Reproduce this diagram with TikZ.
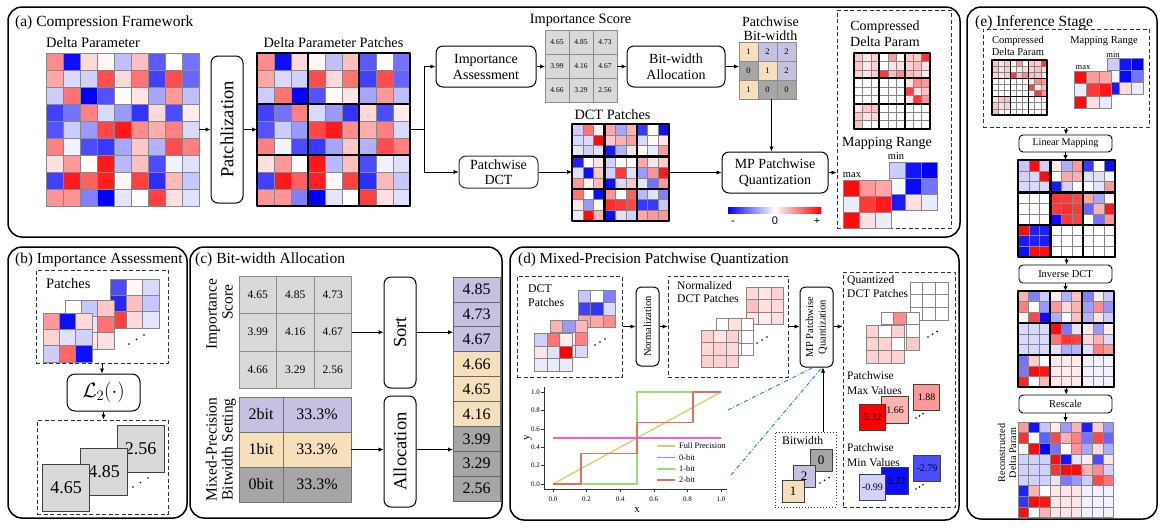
\documentclass[tikz,border=0pt]{standalone}
\usepackage{fontspec}
\setmainfont{Liberation Serif}
\newfontfamily\sansf{Liberation Sans}
\usetikzlibrary{arrows.meta,calc}

\definecolor{lgray}{RGB}{217,217,217}
\definecolor{dgray}{RGB}{166,166,166}
\definecolor{lav}{RGB}{197,193,224}
\definecolor{tanc}{RGB}{246,224,188}
\definecolor{slate}{RGB}{35,55,75}
\definecolor{cellg}{RGB}{135,135,135}
\definecolor{ddblue}{RGB}{46,139,192}
\definecolor{fpcol}{RGB}{212,208,110}
\definecolor{zbcol}{RGB}{232,100,224}
\definecolor{obcol}{RGB}{150,224,112}
\definecolor{tbcol}{RGB}{224,112,96}

\newcommand\fsz[2]{\fontsize{#1}{#2}\selectfont}

% heatmap: x, y (top-left), cell, data macro
\newcommand\hm[4]{%
  \foreach \hmrow [count=\hmr from 0] in #4 {%
    \foreach \hmv [count=\hmc from 0] in \hmrow {%
      \pgfmathtruncatemacro\hma{abs(\hmv)}%
      \ifnum\hmv<0 \def\hmcol{blue!\hma!white}\else\def\hmcol{red!\hma!white}\fi
      \filldraw[fill=\hmcol, draw=cellg, line width=0.5pt] ({#1+\hmc*#3},{#2+\hmr*#3}) rectangle ++(#3,#3);
    }%
  }%
}
% named heatmap: name, x, y, cell, n, data
\newcommand\hmn[6]{%
  \node[inner sep=0pt, outer sep=0pt, minimum size={#5*#4}] (#1) at ({#2+#5*#4/2},{#3+#5*#4/2}) {};
  \hm{#2}{#3}{#4}{#6}%
}
% thick block lines: x, y, size, lw
\newcommand\blk[4]{%
  \draw[line width=#4] (#1,#2) rectangle ++(#3,#3);
  \draw[line width=#4] ({#1+#3/3},#2) -- ++(0,#3) ({#1+2*#3/3},#2) -- ++(0,#3)
     (#1,{#2+#3/3}) -- ++(#3,0) (#1,{#2+2*#3/3}) -- ++(#3,0);
}
% number grid: name, x, y, cell, font, list v/col
\newcommand\cgrid[6]{%
  \node[inner sep=0pt, outer sep=0pt, minimum size={3*#4}] (#1) at ({#2+1.5*#4},{#3+1.5*#4}) {};
  \foreach \gv/\gcl [count=\gk from 0] in {#6} {%
    \pgfmathtruncatemacro\grr{floor(\gk/3)}%
    \pgfmathtruncatemacro\gcc{mod(\gk,3)}%
    \filldraw[fill=\gcl, draw=black!45, line width=0.6pt] ({#2+\gcc*#4},{#3+\grr*#4}) rectangle ++(#4,#4);
    \node[font=#5, inner sep=0pt] (#1-\gk) at ({#2+(\gcc+0.5)*#4},{#3+(\grr+0.5)*#4}) {\gv};
  }%
}
\newcommand\adots[3]{% ascending dots: x, y, step
  \fill (#1,#2) circle (0.9pt) ({#1+#3},{#2-#3*0.6}) circle (0.9pt) ({#1+2*#3},{#2-#3*1.2}) circle (0.9pt);
}

\def\dDP{{45,-95,15,3,-25,25,-65,0,-55},%
{35,-15,-18,70,15,55,-75,70,-60},%
{-20,55,-100,-68,0,10,-35,40,-25},%
{-75,-55,50,-15,-40,-80,15,-70,8},%
{-68,-20,-40,72,90,45,32,50,-15},%
{50,-5,-70,-78,-35,22,-30,70,50},%
{12,40,0,90,-28,25,-70,-5,-12},%
{-75,90,62,88,3,75,-82,28,-22},%
{42,42,-50,-100,-10,0,75,12,-12}}
\def\dDCT{{-20,55,5,35,-35,30,-78,0,-95},%
{-15,-15,95,22,30,38,-15,0,10},%
{-10,-18,-12,-90,-30,10,0,-8,40},%
{-88,0,10,-18,0,0,35,10,20},%
{-12,-95,22,-18,78,-12,-40,42,90},%
{40,5,25,-95,-15,22,-10,-55,40},%
{55,0,-95,42,0,62,-28,-12,-50},%
{10,-40,0,82,78,72,-78,-78,-22},%
{-8,95,30,-95,-12,-18,35,40,40}}
\def\dCmp{{22,10,20,0,40,0,22,20,80},%
{22,10,18,0,10,12,18,25,12},%
{18,10,20,78,25,45,25,22,8},%
{0,0,0,0,0,0,10,45,40},%
{0,0,0,0,0,0,75,10,25},%
{0,0,0,0,0,0,10,78,40},%
{10,22,25,0,0,0,0,0,0},%
{22,12,18,0,0,0,0,0,0},%
{25,0,0,0,0,0,0,0,0}}
\def\dMax{{95,40,35},{-8,78,90},{95,12,-8}}
\def\dMin{{-20,-92,-100},{-3,-97,-55},{-90,12,-8}}
\def\dLM{{-22,95,-18,8,-32,40,-78,0,-95},%
{-18,-15,95,0,35,32,-12,-12,-5},%
{-15,-15,-15,-90,-18,0,0,-10,40},%
{0,0,0,78,78,72,35,-35,5},%
{0,0,0,78,82,78,-60,30,90},%
{0,0,0,-95,78,75,0,-55,40},%
{95,-88,-88,0,0,0,0,0,0},%
{-90,-88,-90,0,0,0,0,0,0},%
{-95,95,95,0,0,0,0,0,0}}
\def\dID{{30,-50,-20,8,-30,25,-50,8,-22},%
{50,0,-40,40,15,30,-38,45,-42},%
{5,72,-95,-32,0,25,-30,10,-20},%
{-15,-15,-15,95,-52,-10,8,-40,8},%
{-15,-15,-15,55,80,75,15,30,-15},%
{-15,-15,-15,-12,-32,-30,-12,50,40},%
{-55,20,0,8,8,8,-5,-5,-5},%
{-52,95,92,8,8,8,-5,-5,-5},%
{85,0,28,8,8,8,-5,-5,-5}}
\def\dRC{{40,-92,-22,8,-40,30,-88,20,-40},%
{82,0,-62,72,30,50,-55,72,-60},%
{5,95,-100,-55,0,42,-35,15,-32},%
{-18,-18,-18,95,-92,-10,8,-70,10},%
{-18,-18,-18,80,95,95,30,45,-18},%
{-18,-18,-18,-10,-52,-40,-20,72,55},%
{-88,30,0,10,10,10,-5,-5,-5},%
{-80,95,92,10,10,10,-5,-5,-5},%
{95,0,30,10,10,10,-5,-5,-5}}
\def\bA{{-70,3,-15},{-85,25,-22},{75,15,-10}}
\def\bB{{0,-22,22},{20,-10,55},{10,10,12}}
\def\bC{{40,-95,15},{18,-12,-18},{-20,60,-95}}
\def\pA{{-22,0,-50},{-75,-80,-15},{35,35,45}}
\def\pB{{30,-40,28},{10,10,50},{5,5,-15}}
\def\pC{{-18,55,8},{10,-12,100},{-8,-8,-8}}
\def\nA{{15,10,18},{25,12,15},{10,8,12}}
\def\nB{{0,12,0},{0,10,0},{0,0,0}}
\def\nC{{18,10,18},{15,18,15},{18,18,18}}
\def\qA{{0,0,0},{0,0,0},{0,0,0}}
\def\qB{{0,45,0},{0,0,0},{0,0,20}}
\def\qC{{18,0,18},{18,18,0},{18,18,18}}

\tikzset{
  panel/.style={line width=1.5pt, rounded corners=14pt},
  box/.style={draw, line width=1pt, rounded corners=7pt, align=center, inner sep=0pt},
  sbox/.style={draw, line width=0.9pt, rounded corners=4pt, align=center, inner sep=0pt},
  dbox/.style={draw=slate, line width=1pt, dash pattern=on 4pt off 2.5pt, inner sep=0pt},
  arr/.style={-{Latex[length=5pt,width=4.5pt]}, line width=0.9pt},
  lin/.style={line width=0.9pt},
  sq/.style={draw=black!75, line width=0.9pt, inner sep=0pt},
}

\begin{document}
\begin{tikzpicture}[x=1pt,y=-1pt,line join=round]
\fill[white] (0,0) rectangle (1167,528);
\useasboundingbox (0,0) rectangle (1167,528);

%================ (a) =================
\draw[panel] (8,7) rectangle (960,237);
\node[anchor=base west, font=\fsz{15.5}{18}, inner sep=0pt] (ta) at (15,26) {(a) Compression Framework};
\node[anchor=base west, font=\fsz{14.5}{17}, inner sep=0pt] (ldp) at (46,47) {Delta Parameter};
\hmn{dp}{46}{53}{17}{9}{\dDP}
\node[box, minimum width=32pt, minimum height=147pt] (pz) at (227,129.5) {};
\node[rotate=90, font=\fsz{18.5}{20}] (pzt) at (pz.center) {Patchlization};
\node[anchor=base, font=\fsz{14.3}{17}, inner sep=0pt] (ldpp) at (333.5,47) {Delta Parameter Patches};
\hmn{dpp}{257}{53}{17}{9}{\dDP}
\blk{257}{53}{153}{2.8pt}
\draw[arr] (dp.east) -- (pz.west);
\draw[arr] (pz.east) -- (dpp.west);

\node[box, minimum width=100pt, minimum height=41pt, font=\fsz{14}{16}] (ia) at (486,66.5) {Importance\\Assessment};
\coordinate (br) at (424,129.5);
\draw[lin] (dpp.east) -- (br);
\draw[arr] (br) |- (ia.west);
\node[box, draw=slate, minimum width=79pt, minimum height=32pt, font=\fsz{14}{15}] (pd) at (498.5,172) {Patchwise\\DCT};
\draw[arr] (br) |- (pd.west);

\node[anchor=base, font=\fsz{14.3}{17}, inner sep=0pt] (lis) at (580.5,23) {Importance Score};
\cgrid{isg}{545}{30}{24}{\fsz{7.5}{9}}{4.65/lgray,4.85/lgray,4.73/lgray,3.99/lgray,4.16/lgray,4.67/lgray,4.66/lgray,3.29/lgray,2.56/lgray}
\draw[arr] (ia.east) -- (ia.east -| isg.west);
\node[box, minimum width=98pt, minimum height=41pt, font=\fsz{14}{16}] (bwa) at (676,66.5) {Bit-width\\Allocation};
\draw[arr] (isg.east |- bwa.west) -- (bwa.west);

\node[anchor=base, font=\fsz{14}{16}, inner sep=0pt] (lpb1) at (770.5,26) {Patchwise};
\node[anchor=base, font=\fsz{14}{16}, inner sep=0pt] (lpb2) at (770.5,40) {Bit-width};
\cgrid{pbw}{739}{42}{19}{\fsz{8.5}{10}}{1/tanc,2/lav,2/lav,0/dgray,1/tanc,2/lav,1/tanc,0/dgray,0/dgray}
\draw[arr] (bwa.east) -- (bwa.east -| pbw.west);

\node[box, minimum width=106pt, minimum height=41pt, font=\fsz{14}{16}] (mp) at (775,172.5) {MP Patchwise\\Quantization};
\draw[arr] ([xshift=4pt]pbw.south) -- ([xshift=4pt]pbw.south |- mp.north);

\node[anchor=base, font=\fsz{14.3}{17}, inner sep=0pt] (ldct) at (612.5,119) {DCT Patches};
\hmn{dct}{572}{124}{10.8}{9}{\dDCT}
\blk{572}{124}{97.2}{2.2pt}
\draw[arr] (pd.east) -- (pd.east -| dct.west);
\draw[arr] (dct.east |- mp.west) -- (mp.west);

\shade[left color=blue, right color=red, middle color=white] (728,207) rectangle (821,213);
\node[anchor=base, font={\sansf\fsz{11}{12}}, inner sep=0pt] (cbm) at (733,224) {-};
\node[anchor=base, font={\sansf\fsz{11}{12}}, inner sep=0pt] (cbz) at (775,224) {0};
\node[anchor=base, font={\sansf\fsz{11}{12}}, inner sep=0pt] (cbp) at (817,224) {+};

\node[dbox, minimum width=114pt, minimum height=218pt] (cdb) at (894,119) {};
\draw[arr] (mp.east) -- (mp.east -| cdb.west);
\node[anchor=base, font=\fsz{14}{16}, inner sep=0pt] (lc1) at (885,30) {Compressed};
\node[anchor=base, font=\fsz{14}{16}, inner sep=0pt] (lc2) at (885,46) {Delta Param};
\hmn{cmp}{854}{53}{8.44}{9}{\dCmp}
\blk{854}{53}{76}{1.8pt}
\node[anchor=base, font=\fsz{14}{16}, inner sep=0pt] (lmr) at (887,146) {Mapping Range};
\node[anchor=base, font=\fsz{10.5}{12}, inner sep=0pt] (lmin) at (896,159.5) {min};
\hmn{mn}{889}{162}{16}{3}{\dMin}
\node[anchor=base, font=\fsz{10.5}{12}, inner sep=0pt] (lmax) at (852,177.5) {max};
\hmn{mx}{843}{180}{16}{3}{\dMax}

%================ (e) =================
\draw[panel] (967,7) rectangle (1157,519);
\node[anchor=base west, font=\fsz{15.5}{18}, inner sep=0pt] (te) at (975,26) {(e) Inference Stage};
\node[dbox, minimum width=166pt, minimum height=98pt] (edb) at (1066,78) {};
\node[anchor=base, font=\fsz{10.5}{12}, inner sep=0pt] (le1) at (1018,43) {Compressed};
\node[anchor=base, font=\fsz{10.5}{12}, inner sep=0pt] (le2) at (1018,55) {Delta Param};
\hmn{ecmp}{992}{60}{6.1}{9}{\dCmp}
\blk{992}{60}{54.9}{1.4pt}
\node[anchor=base, font=\fsz{10.5}{12}, inner sep=0pt] (le3) at (1104,43) {Mapping Range};
\node[anchor=base, font=\fsz{8.5}{10}, inner sep=0pt] (le4) at (1113,57) {min};
\hmn{emn}{1107}{58}{12}{3}{\dMin}
\node[anchor=base, font=\fsz{8.5}{10}, inner sep=0pt] (le5) at (1083,69) {max};
\hmn{emx}{1074}{71}{12.5}{3}{\dMax}

\node[sbox, minimum width=93pt, minimum height=17pt, font=\fsz{10.2}{12}] (lm) at (1065.5,143.5) {Linear Mapping};
\draw[arr] (edb.south) -- (edb.south |- lm.north);
\hmn{g1}{1018}{160}{10.8}{9}{\dLM}
\blk{1018}{160}{97.2}{2.2pt}
\draw[arr] (lm.south) -- (lm.south |- g1.north);
\node[sbox, minimum width=93pt, minimum height=18pt, font=\fsz{10.5}{12}] (idct) at (1065.5,274) {Inverse DCT};
\draw[arr] (g1.south) -- (g1.south |- idct.north);
\hmn{g2}{1018}{291}{10.7}{9}{\dID}
\blk{1018}{291}{96.3}{2.2pt}
\draw[arr] (idct.south) -- (idct.south |- g2.north);
\node[sbox, minimum width=93pt, minimum height=18pt, font=\fsz{10.5}{12}] (rs) at (1065.5,404) {Rescale};
\draw[arr] (g2.south) -- (g2.south |- rs.north);
\hmn{g3}{1018}{422}{10.6}{9}{\dRC}
\draw[arr] (rs.south) -- (rs.south |- g3.north);
\node[rotate=90, anchor=base, font=\fsz{10.2}{12}, inner sep=0pt] (lr1) at (1005,453) {Reconstructed};
\node[rotate=90, anchor=base, font=\fsz{10.2}{12}, inner sep=0pt] (lr2) at (1016,453) {Delta Param};

%================ (b) =================
\draw[panel] (8,247) rectangle (187,518);
\node[anchor=base west, font=\fsz{15.3}{18}, inner sep=0pt] (tb) at (15,263) {(b) Importance Assessment};
\node[dbox, minimum width=132pt, minimum height=93pt] (bdb1) at (102,316.5) {};
\node[anchor=base west, font=\fsz{14.5}{17}, inner sep=0pt] (lbp) at (46,288) {Patches};
\hmn{bpa}{110}{279}{16.3}{3}{\bA}
\hmn{bpb}{65}{300}{16.3}{3}{\bB}
\hmn{bpc}{43}{313}{16.3}{3}{\bC}
\adots{129}{344}{7.5}
\node[box, rounded corners=8pt, minimum width=73pt, minimum height=37pt, font=\fsz{20}{22}] (l2) at (103.5,392.5) {$\mathcal{L}_2(\cdot)$};
\draw[arr] (bdb1.south) -- (bdb1.south |- l2.north);
\node[dbox, minimum width=131pt, minimum height=94pt] (bdb2) at (102.5,467) {};
\draw[arr] (l2.south) -- (l2.south |- bdb2.north);
\node[sq, fill=lgray, minimum size=47pt, font=\fsz{18}{20}] (s3) at (140.5,449) {2.56};
\node[sq, fill=lgray, minimum size=47pt, font=\fsz{18}{20}] (s2) at (104,472) {4.85};
\node[sq, fill=lgray, minimum size=47pt, font=\fsz{18}{20}] (s1) at (66,488) {4.65};
\adots{133}{487}{7.5}

%================ (c) =================
\draw[panel] (190,247) rectangle (502,518);
\node[anchor=base west, font=\fsz{15.5}{18}, inner sep=0pt] (tc) at (195,263) {(c) Bit-width Allocation};
\cgrid{cis}{239}{276}{37.5}{\fsz{11.5}{13}}{4.65/lgray,4.85/lgray,4.73/lgray,3.99/lgray,4.16/lgray,4.67/lgray,4.66/lgray,3.29/lgray,2.56/lgray}
\node[rotate=90, anchor=base, font=\fsz{15.5}{17}, inner sep=0pt] (lci1) at (216.5,314) {Importance};
\node[rotate=90, anchor=base, font=\fsz{15.5}{17}, inner sep=0pt] (lci2) at (232.5,302) {Score};
\node[inner sep=0pt, outer sep=0pt, minimum width=112pt, minimum height=105pt] (cmp) at (295,449.5) {};
\foreach \tb/\tcl [count=\tk from 0] in {2bit/lav,1bit/tanc,0bit/dgray} {
  \filldraw[fill=\tcl, draw=black!55, line width=0.7pt] (239,{397+\tk*35}) rectangle ++(44,35);
  \filldraw[fill=\tcl, draw=black!55, line width=0.7pt] (283,{397+\tk*35}) rectangle ++(68,35);
  \node[font=\fsz{16}{18}] (cmpb-\tk) at (261,{397+(\tk+0.5)*35}) {\tb};
  \node[font=\fsz{16}{18}] (cmpp-\tk) at (317,{397+(\tk+0.5)*35}) {33.3\%};
}
\node[rotate=90, anchor=base, font=\fsz{15.5}{17}, inner sep=0pt] (lcm1) at (216.5,449.5) {Mixed-Precision};
\node[rotate=90, anchor=base, font=\fsz{15.5}{17}, inner sep=0pt] (lcm2) at (232.5,449.5) {Bitwidth Setting};
\node[box, minimum width=32pt, minimum height=111pt] (sort) at (400,332.5) {};
\node[rotate=90, font=\fsz{18.5}{20}] (sortt) at (sort.center) {Sort};
\node[box, minimum width=32pt, minimum height=111pt] (alloc) at (400,451.5) {};
\node[rotate=90, font=\fsz{18.5}{20}] (alloct) at (alloc.center) {Allocation};
\node[inner sep=0pt, outer sep=0pt, minimum width=47pt, minimum height=224pt] (csl) at (476.5,389) {};
\foreach \sv/\scl [count=\sk from 0] in {4.85/lav,4.73/lav,4.67/lav,4.66/tanc,4.65/tanc,4.16/tanc,3.99/dgray,3.29/dgray,2.56/dgray} {
  \filldraw[fill=\scl, draw=black!60, line width=0.8pt] (453,{277+\sk*24.9}) rectangle ++(47,24.9);
  \node[font=\fsz{16}{18}] (csl-\sk) at (476.5,{277+(\sk+0.5)*24.9}) {\sv};
}
\draw[arr] (cis.east) -- (cis.east -| sort.west);
\draw[arr] (sort.east |- cis.east) -- (cis.east -| csl.west);
\draw[arr] (cmp.east) -- (cmp.east -| alloc.west);
\draw[arr] (alloc.east |- cmp.east) -- (cmp.east -| csl.west);

%================ (d) =================
\draw[panel] (510,247) rectangle (959,520);
\node[anchor=base west, font=\fsz{15.2}{18}, inner sep=0pt] (td) at (518,263) {(d) Mixed-Precision Patchwise Quantization};
\node[dbox, minimum width=105pt, minimum height=101pt] (ddb) at (569.5,326.5) {};
\node[anchor=base west, font=\fsz{11.8}{14}, inner sep=0pt] (ld1) at (528,292) {DCT};
\node[anchor=base west, font=\fsz{11.8}{14}, inner sep=0pt] (ld2) at (528,306) {Patches};
\hmn{dpa}{578}{290}{12.5}{3}{\pA}
\hmn{dpb}{550}{320}{12.5}{3}{\pB}
\hmn{dpc}{534}{333}{12.8}{3}{\pC}
\adots{595}{345}{5}

\node[box, rounded corners=5pt, minimum width=23pt, minimum height=79pt] (norm) at (647.5,326.5) {};
\node[rotate=90, font=\fsz{10.5}{12}] (normt) at (norm.center) {Normalization};
\draw[arr] (ddb.east) -- (norm.west);

\node[dbox, minimum width=120pt, minimum height=101pt] (ndb) at (728,326.5) {};
\draw[arr] (norm.east) -- (ndb.west);
\node[anchor=base west, font=\fsz{11.6}{14}, inner sep=0pt] (ln1) at (677,289) {Normalized};
\node[anchor=base west, font=\fsz{11.6}{14}, inner sep=0pt] (ln2) at (677,302.5) {DCT Patches};
\hmn{npa}{746}{287}{12.4}{3}{\nA}
\hmn{npb}{716}{318}{12.5}{3}{\nB}
\hmn{npc}{701}{330}{12.5}{3}{\nC}
\adots{757}{343}{5}

\node[box, rounded corners=5pt, minimum width=33pt, minimum height=80pt] (mpq) at (816.5,327) {};
\node[rotate=90, align=center, font=\fsz{10.5}{12.5}] (mpqt) at (mpq.center) {MP Patchwise\\Quantization};
\draw[arr] (ndb.east) -- (ndb.east -| mpq.west);

\node[dbox, minimum width=112pt, minimum height=235pt] (qdb) at (899,389.5) {};
\draw[arr] (mpq.east |- ndb.east) -- (ndb.east -| qdb.west);
\node[anchor=base west, font=\fsz{11.5}{14}, inner sep=0pt] (lq1) at (847,283) {Quantized};
\node[anchor=base west, font=\fsz{11.5}{14}, inner sep=0pt] (lq2) at (847,297.5) {DCT Patches};
\hmn{qpa}{910}{282}{12.7}{3}{\qA}
\hmn{qpb}{881}{312}{12.7}{3}{\qB}
\hmn{qpc}{866}{325}{12.7}{3}{\qC}
\adots{928}{337}{4.5}

\node[anchor=base west, font=\fsz{11.5}{14}, inner sep=0pt] (lx1) at (847,379) {Patchwise};
\node[anchor=base west, font=\fsz{11.5}{14}, inner sep=0pt] (lx2) at (847,394) {Max Values};
\node[sq, fill=red!40!white, minimum size=26.5pt, font=\fsz{10}{12}] (mx3) at (926.5,397.5) {1.88};
\node[sq, fill=red!30!white, minimum size=26.5pt, font=\fsz{10}{12}] (mx2) at (895,410) {1.66};
\node[sq, fill=red!100!white, minimum size=26.5pt, font=\fsz{10}{12}] (mx1) at (872.5,417.5) {5.32};
\adots{916}{418}{3.5}
\node[anchor=base west, font=\fsz{11.5}{14}, inner sep=0pt] (ln3) at (847,451) {Patchwise};
\node[anchor=base west, font=\fsz{11.5}{14}, inner sep=0pt] (ln4) at (847,466) {Min Values};
\node[sq, fill=blue!70!white, minimum size=26.5pt, font=\fsz{10}{12}] (mn3) at (927,468.5) {-2.79};
\node[sq, fill=blue!95!white, minimum size=26.5pt, font=\fsz{10}{12}] (mn2) at (895,481) {-3.22};
\node[sq, fill=blue!18!white, minimum size=26.5pt, font=\fsz{10}{12}] (mn1) at (872.5,487.5) {-0.99};
\adots{916}{489}{3.5}

\node[draw=slate, line width=1pt, dotted, inner sep=0pt, minimum width=61pt, minimum height=75pt] (bwb) at (805.5,469.5) {};
\node[anchor=base west, font=\fsz{11.7}{14}, inner sep=0pt] (lbw) at (782,444) {Bitwidth};
\node[sq, fill=dgray, minimum size=22pt, font=\fsz{13}{15}] (bw3) at (821,460) {0};
\node[sq, fill=lav, minimum size=22pt, font=\fsz{13}{15}] (bw2) at (804,476) {2};
\node[sq, fill=tanc, minimum size=22pt, font=\fsz{13}{15}] (bw1) at (793,491) {1};
\adots{820}{483}{4.5}
\draw[arr] ([xshift=17.5pt]bwb.north) -- ([xshift=17.5pt]bwb.north |- mpq.south);

% plot
\draw[line width=0.7pt, black!80] (544,387) -- (544,489) -- (727,489);
\foreach \tx [count=\tk from 0] in {0.0,0.2,0.4,0.6,0.8,1.0} {
  \draw[line width=0.6pt, black!80] ({553+33.6*\tk},489) -- ++(0,3);
  \node[anchor=base, font=\fsz{7}{8}, inner sep=0pt] (xt-\tk) at ({553+33.6*\tk},501) {\tx};
  \draw[line width=0.6pt, black!80] (544,{484-18.4*\tk}) -- ++(-3,0);
  \node[anchor=east, font=\fsz{7}{8}, inner sep=0pt] (yt-\tk) at (540,{484-18.4*\tk}) {\tx};
}
\node[font=\fsz{11}{12}] (xl) at (637,510) {x};
\node[rotate=90, font=\fsz{11}{12}] (yl) at (528,438) {y};
\draw[fpcol, line width=1.3pt] (553,484) -- (721,392);
\draw[zbcol, line width=1.3pt] (553,438) -- (721,438);
\draw[obcol, line width=1.3pt] (553,484) -- (637,484) -- (637,392) -- (721,392);
\draw[tbcol, line width=1.3pt] (553,484) -- (581,484) -- (581,453.3) -- (637,453.3) -- (637,422.7) -- (693,422.7) -- (693,392) -- (721,392);
\foreach \lc/\lt/\ly [count=\lk] in {fpcol/Full Precision/446,zbcol/0-bit/457.5,obcol/1-bit/469,tbcol/2-bit/480} {
  \draw[\lc, line width=1.3pt] (657,\ly) -- (675,\ly);
  \node[anchor=west, font=\fsz{8.3}{10}, inner sep=0pt] (lg-\lk) at (679,\ly) {\lt};
}
\coordinate (dd1) at (728,410);
\coordinate (dd2) at (731,475);
\draw[ddblue, line width=1pt, dash pattern=on 4pt off 2pt on 1pt off 2pt] (dd1) -- ([xshift=-3.5pt]mpq.south);
\draw[ddblue, line width=1pt, dash pattern=on 4pt off 2pt on 1pt off 2pt] (dd2) -- ([xshift=5.5pt]mpq.south);
\end{tikzpicture}
\end{document}
